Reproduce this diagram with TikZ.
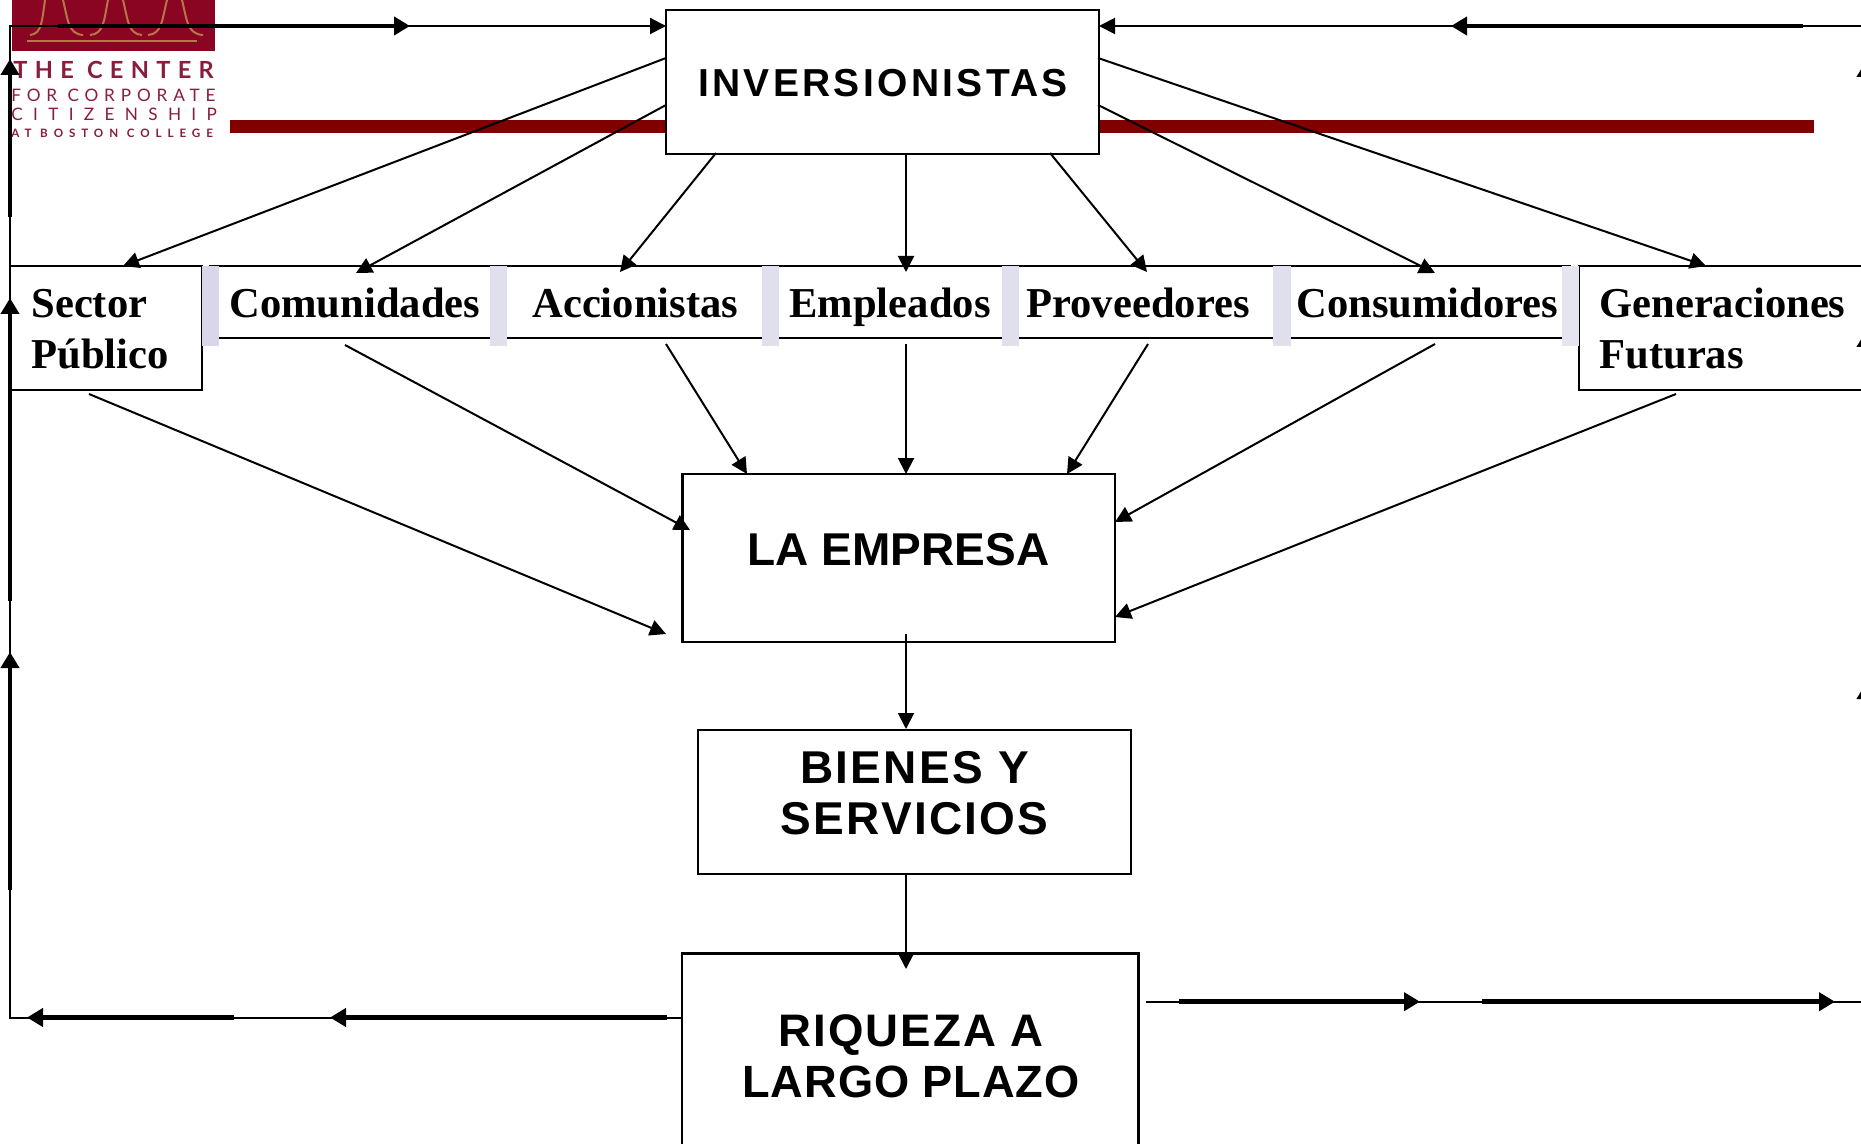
\documentclass[tikz,border=0pt]{standalone}
\usepackage{fontspec}
\usetikzlibrary{arrows.meta}
\setmainfont{Liberation Serif}
\newfontfamily\capsfont{Liberation Sans}
\newfontfamily\logofont{Lato}
\definecolor{barred}{HTML}{800000}
\definecolor{logored}{HTML}{8A0522}
\definecolor{logotan}{HTML}{B5764A}
\definecolor{logotext}{HTML}{8A1C3C}
\definecolor{barA}{HTML}{D9D6EA}
\definecolor{barB}{HTML}{E0E0EC}
\definecolor{barC}{HTML}{E5E5F0}
\tikzset{
  boxs/.style={draw=black,fill=white,line width=1.1pt,inner sep=0pt,rectangle},
  barstyle/.style={inner sep=0pt,rectangle,draw=none},
  thin arrow/.style={line width=1pt,-{Triangle[length=8pt,width=8pt]}},
  thinline/.style={line width=1pt},
  thick arrow/.style={line width=2.3pt,-{Triangle[length=8pt,width=9pt]}},
  stake/.style={anchor=base west,inner sep=0pt,font=\fontsize{21.3}{21.3}\selectfont\bfseries},
  caplabel/.style={anchor=base,inner sep=0pt,font=\capsfont\fontsize{23}{23}\selectfont\bfseries},
  logotxt/.style={anchor=base west,inner sep=0pt,text=logotext},
  bell/.style={draw=logotan,line width=1pt}
}
\newcommand{\bx}[6][boxs]{\node[#1,minimum width={(#5-#3)*0.5pt},minimum height={(#6-#4)*0.5pt}] (#2) at ({(#3+#5)/2},{(#4+#6)/2}) {};}
\begin{document}
\begin{tikzpicture}[x=0.5pt,y=-0.5pt]
\clip (0,0) rectangle (1861,1144);
\fill[white] (0,0) rectangle (1861,1144);
% logo
\fill[logored] (12,0) rectangle (215,51);
\draw[bell] (45,0) .. controls (42,20) and (42,34) .. (30,35);
\draw[bell] (63,0) .. controls (68,20) and (68,34) .. (83,35);
\draw[bell] (108,0) .. controls (104,20) and (104,34) .. (90,35);
\draw[bell] (123,0) .. controls (128,20) and (128,34) .. (142,35);
\draw[bell] (167,0) .. controls (162,20) and (162,34) .. (148,35);
\draw[bell] (182,0) .. controls (187,20) and (187,34) .. (203,35);
\draw[bell] (27,41.5) -- (197,41.5);
\node[logotxt] (lg1) at (13,78.5) {\logofont\fontsize{11.8}{12}\selectfont\bfseries\addfontfeature{LetterSpace=31}THE CENTER};
\node[logotxt] (lg2) at (11,101.5) {\logofont\fontsize{8.6}{9}\selectfont\addfontfeature{LetterSpace=34}FOR CORPORATE};
\node[logotxt] (lg3) at (11,121) {\logofont\fontsize{8.6}{9}\selectfont\addfontfeature{LetterSpace=60}CITIZENSHIP};
\node[logotxt] (lg4) at (11,138) {\logofont\fontsize{5.8}{6}\selectfont\bfseries\addfontfeature{LetterSpace=51}AT BOSTON COLLEGE};
% red rule
\fill[barred] (230,120) rectangle (1814,133);
% boxes
\bx{inv}{666}{10}{1099}{154}
\bx{sp}{10}{266}{202}{390}
\bx{com}{210}{266}{498}{338}
\bx{acc}{498}{266}{770}{338}
\bx{emp}{770}{266}{1010}{338}
\bx{pro}{1010}{266}{1282}{338}
\bx{con}{1282}{266}{1570}{338}
\bx{gen}{1579}{266}{2100}{390}
\bx{emq}{682.5}{474}{1115}{642}
\bx{bie}{698}{730}{1131}{874}
\bx{riq}{682}{953.5}{1138.5}{1300}
% light bars
\bx[barstyle,fill=barA]{b1}{202}{266}{219}{346}
\bx[barstyle,fill=barB]{b2}{490}{266}{507}{346}
\bx[barstyle,fill=barB]{b3}{762}{266}{779}{346}
\bx[barstyle,fill=barB]{b4}{1002}{266}{1019}{346}
\bx[barstyle,fill=barB]{b5}{1273}{266}{1291}{346}
\bx[barstyle,fill=barC]{b6}{1562}{266}{1579}{346}
% labels
\node[stake] (t1) at (31,318) {Sector};
\node[stake] (t1b) at (31,368.5) {Público};
\node[stake] (t2) at (229,318) {Comunidades};
\node[stake] (t3) at (532,318) {Accionistas};
\node[stake] (t4) at (789,318) {Empleados};
\node[stake] (t5) at (1026,318) {Proveedores};
\node[stake] (t6) at (1296,318) {Consumidores};
\node[stake] (t7) at (1599,318) {Generaciones};
\node[stake] (t7b) at (1599,368.5) {Futuras};
\node[caplabel,font=\capsfont\fontsize{19.5}{20}\selectfont\bfseries\addfontfeature{LetterSpace=8.5}] (linv) at (883,96.7) {INVERSIONISTAS};
\node[caplabel] (lemq) at (898.5,565) {LA EMPRESA};
\node[caplabel,font=\capsfont\fontsize{23}{23}\selectfont\bfseries\addfontfeature{LetterSpace=5}] (lb1) at (914.5,783) {BIENES Y};
\node[caplabel,font=\capsfont\fontsize{23}{23}\selectfont\bfseries\addfontfeature{LetterSpace=5}] (lb2) at (914.5,834) {SERVICIOS};
\node[caplabel,font=\capsfont\fontsize{22.8}{23}\selectfont\bfseries\addfontfeature{LetterSpace=4.5}] (lr1) at (911,1046) {RIQUEZA A};
\node[caplabel,font=\capsfont\fontsize{22.6}{23}\selectfont\bfseries\addfontfeature{LetterSpace=2}] (lr2) at (911,1097) {LARGO PLAZO};
% connector end points
\coordinate (s1) at (666,58);   \coordinate (e1) at (123,266);
\coordinate (s2) at (666,105);  \coordinate (e2) at (356,273);
\coordinate (s3) at (716,153);  \coordinate (e3) at (620,272);
\coordinate (s4) at (906,153);  \coordinate (e4) at (906,272);
\coordinate (s5) at (1050,153); \coordinate (e5) at (1147,272);
\coordinate (s6) at (1098,105); \coordinate (e6) at (1435,273);
\coordinate (s7) at (1098,58);  \coordinate (e7) at (1706,266);
\coordinate (f1) at (89,394);   \coordinate (g1) at (666,634);
\coordinate (f2) at (345,345);  \coordinate (g2) at (690,530);
\coordinate (f3) at (666,344);  \coordinate (g3) at (747,474);
\coordinate (f4) at (906,344);  \coordinate (g4) at (906,474);
\coordinate (f5) at (1148,344); \coordinate (g5) at (1067,474);
\coordinate (f6) at (1435,344); \coordinate (g6) at (1115,522);
\coordinate (f7) at (1676,394); \coordinate (g7) at (1115,617);
\coordinate (h1) at (906,634);  \coordinate (k1) at (906,729);
\coordinate (h2) at (906,874);  \coordinate (k2) at (906,969);
\foreach \i in {1,...,7} {\draw[thin arrow] (s\i) -- (e\i); \draw[thin arrow] (f\i) -- (g\i);}
\draw[thin arrow] (h1) -- (k1);
\draw[thin arrow] (h2) -- (k2);
% feedback loop, left
\coordinate (rl) at (682,1017.5);
\coordinate (cbl) at (10,1017.5);
\coordinate (ctl) at (10,26);
\coordinate (it) at (666,26);
\draw[thin arrow] (rl) -- (cbl) -- (ctl) -- (it);
\coordinate (ta1) at (667,1017.5); \coordinate (tb1) at (330,1017.5);
\coordinate (ta2) at (234,1017.5); \coordinate (tb2) at (27,1017.5);
\coordinate (ta3) at (10,890);     \coordinate (tb3) at (10,652);
\coordinate (ta4) at (10,601);     \coordinate (tb4) at (10,298);
\coordinate (ta5) at (10,217);     \coordinate (tb5) at (10,59);
\coordinate (ta6) at (58,26);      \coordinate (tb6) at (410,26);
\foreach \i in {1,...,6} {\draw[thick arrow] (ta\i) -- (tb\i);}
% feedback loop, right
\coordinate (rtop) at (1861,26);
\coordinate (itr) at (1099,26);
\draw[thin arrow] (rtop) -- (itr);
\coordinate (ta7) at (1803,26); \coordinate (tb7) at (1451,26);
\draw[thick arrow] (ta7) -- (tb7);
\coordinate (rb1) at (1146,1001.7);
\coordinate (rb2) at (1861,1001.7);
\draw[thinline] (rb1) -- (rb2);
\coordinate (ta8) at (1179,1001.7); \coordinate (tb8) at (1420,1001.7);
\coordinate (ta9) at (1482,1001.7); \coordinate (tb9) at (1835,1001.7);
\draw[thick arrow] (ta8) -- (tb8);
\draw[thick arrow] (ta9) -- (tb9);
% clipped arrow heads at the right edge
\coordinate (q1) at (1866,110); \coordinate (u1) at (1866,61);
\coordinate (q2) at (1866,390); \coordinate (u2) at (1866,331);
\coordinate (q3) at (1866,750); \coordinate (u3) at (1866,683);
\foreach \i in {1,2,3} {\draw[thick arrow] (q\i) -- (u\i);}
\end{tikzpicture}
\end{document}
